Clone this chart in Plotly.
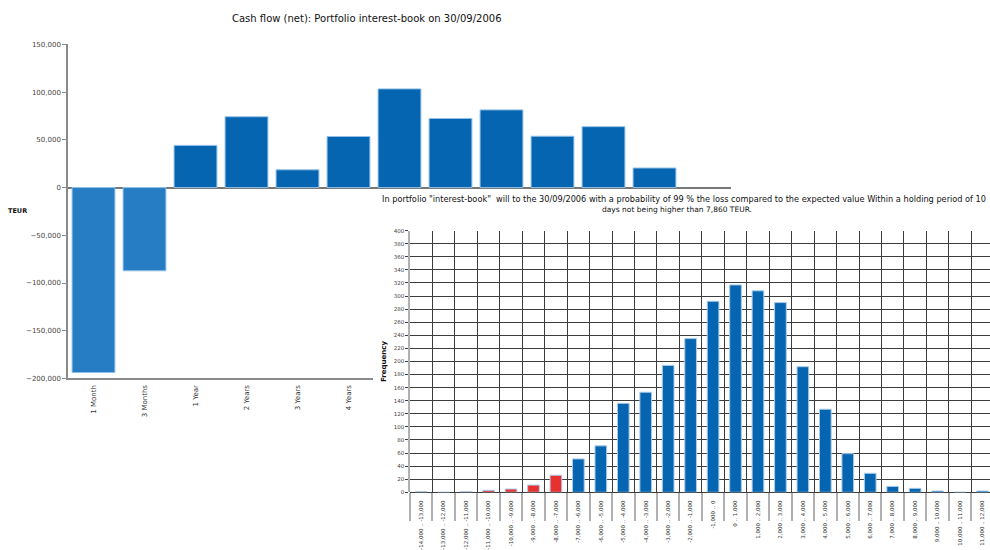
import plotly.graph_objects as go

# ---------------- data ----------------
cf_categories = ["1 Month", "3 Months", "1 Year", "2 Years", "3 Years", "4 Years",
                 "5 Years", "6 Years", "7 Years", "8 Years", "9 Years", "10 Years", "> 10 Years"]
cf_values = [-193800, -87200, 44200, 74200, 18600, 53500,
             103400, 72400, 81400, 53800, 63800, 20500, None]
cf_colors = ["#277dc3", "#277dc3"] + ["#0565b1"] * 11

hist_bins = ["-14,000 .. -13,000", "-13,000 .. -12,000", "-12,000 .. -11,000",
             "-11,000 .. -10,000", "-10,000 .. -9,000", "-9,000 .. -8,000",
             "-8,000 .. -7,000", "-7,000 .. -6,000", "-6,000 .. -5,000",
             "-5,000 .. -4,000", "-4,000 .. -3,000", "-3,000 .. -2,000",
             "-2,000 .. -1,000", "-1,000 .. 0", "0 .. 1,000", "1,000 .. 2,000",
             "2,000 .. 3,000", "3,000 .. 4,000", "4,000 .. 5,000", "5,000 .. 6,000",
             "6,000 .. 7,000", "7,000 .. 8,000", "8,000 .. 9,000", "9,000 .. 10,000",
             "10,000 .. 11,000", "11,000 .. 12,000"]
hist_freq = [1, 0, 1, 3, 5, 11, 26, 51, 71, 136, 153, 194, 235, 292, 317, 308,
             290, 192, 127, 59, 29, 9, 6, 2, 0, 2]
hist_colors = ["#e8302f"] * 7 + ["#0565b1"] * 19

title_left = "Cash flow (net): Portfolio interest-book on 30/09/2006"
title_right_1 = ("In portfolio \"interest-book\"  will to the 30/09/2006 with a probability of 99 % "
                 "the loss compared to the expected value Within a holding period of 10")
title_right_2 = "days not being higher than 7,860 TEUR."

W, H = 990, 550
FONT = "DejaVu Sans"


def fx(p):
    return p / W


def fy(p):
    return 1 - p / H


fig = go.Figure()

# left chart: cash flow
fig.add_trace(go.Bar(
    x=cf_categories, y=cf_values, xaxis="x", yaxis="y",
    marker=dict(color=cf_colors, line=dict(color="#92c0e8", width=1)),
    showlegend=False, hoverinfo="x+y"))

# cover layer (white panel, the histogram sits on top of it)
fig.add_trace(go.Scatter(x=[], y=[], xaxis="x2", yaxis="y2", showlegend=False,
                         hoverinfo="skip"))

# right chart: histogram
fig.add_trace(go.Bar(
    x=hist_bins, y=hist_freq, xaxis="x3", yaxis="y3", width=0.52,
    marker=dict(color=hist_colors, line=dict(color="#a9cbea", width=1)),
    showlegend=False, hoverinfo="x+y"))

cat_w = 22.45
fig.update_layout(
    width=W, height=H,
    margin=dict(l=0, r=0, t=0, b=0),
    paper_bgcolor="white", plot_bgcolor="white",
    font=dict(family=FONT, size=7, color="#333"),
    bargap=0.16,
    xaxis=dict(domain=[fx(68), fx(731)], anchor="y", type="category",
               range=[-0.5, 12.5], showgrid=False, zeroline=False,
               showline=True, linecolor="#8a8a8a", linewidth=1.5,
               ticks="", tickangle=-90, tickfont=dict(size=7, color="#333"),
               ticklabelstandoff=2),
    yaxis=dict(domain=[fy(380), fy(41)], anchor="x", range=[-200000, 150000],
               dtick=50000, tickformat=",", showgrid=False,
               zeroline=True, zerolinecolor="#777", zerolinewidth=2,
               showline=True, linecolor="#8a8a8a", linewidth=1.5,
               ticks="outside", ticklen=4, tickcolor="#8a8a8a",
               tickfont=dict(size=7, color="#444")),
    xaxis2=dict(domain=[fx(373), 1], anchor="y2", visible=False),
    yaxis2=dict(domain=[0, fy(189)], anchor="x2", visible=False),
    xaxis3=dict(domain=[fx(410), 1], anchor="y3", type="category",
                range=[-0.5, -0.5 + (W - 410) / cat_w],
                tickson="boundaries", showgrid=True, gridcolor="#3c3c3c", gridwidth=1,
                ticks="outside", ticklen=28, tickcolor="#b0b0b0", tickwidth=1.5,
                ticklabelstandoff=6, tickangle=-90,
                tickfont=dict(size=5.5, color="#333"),
                showline=False, zeroline=False),
    yaxis3=dict(domain=[fy(495.5), fy(230)], anchor="x3", range=[0, 400], dtick=20,
                showgrid=True, gridcolor="#3c3c3c", gridwidth=1,
                zeroline=True, zerolinecolor="#3c3c3c", zerolinewidth=1,
                showline=True, linecolor="#b0b0b0", linewidth=1.5,
                ticks="outside", ticklen=3, tickcolor="#3c3c3c",
                tickfont=dict(size=5.5, color="#444"),
                title=dict(text="<b>Frequency</b>", font=dict(size=7, color="#111"),
                           standoff=6)),
)

fig.update_layout(annotations=[
    dict(text=title_left, xref="paper", yref="paper", x=fx(367), y=fy(15),
         xanchor="center", yanchor="middle", showarrow=False,
         font=dict(size=10, color="#111", family=FONT)),
    dict(text="<b>TEUR</b>", xref="paper", yref="paper", x=fx(17), y=fy(210),
         xanchor="center", yanchor="middle", showarrow=False,
         font=dict(size=6.5, color="#111", family=FONT)),
    dict(text=title_right_1, xref="paper", yref="paper", x=fx(380), y=fy(198),
         xanchor="left", yanchor="middle", showarrow=False, align="left",
         font=dict(size=8.2, color="#111", family=FONT)),
    dict(text=title_right_2, xref="paper", yref="paper", x=fx(677), y=fy(209),
         xanchor="center", yanchor="middle", showarrow=False, align="center",
         font=dict(size=7.5, color="#111", family=FONT)),
])

fig.write_html("out.html")
